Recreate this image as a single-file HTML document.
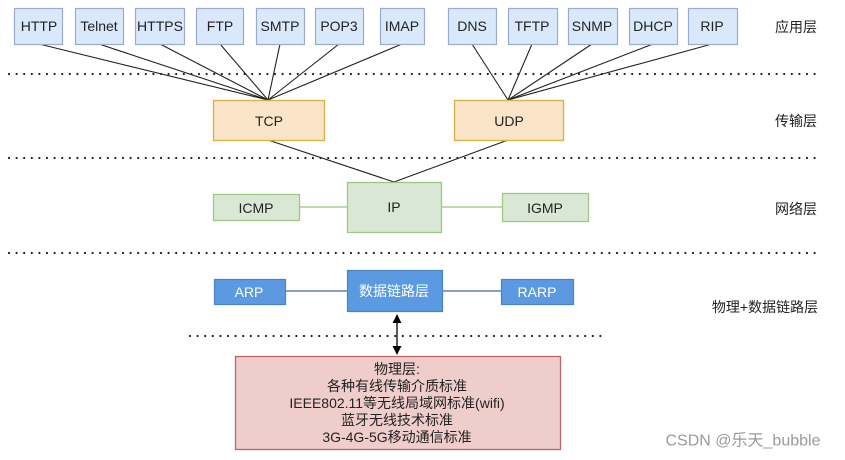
<!DOCTYPE html>
<html><head><meta charset="utf-8"><style>
html,body{margin:0;padding:0;background:#fff}
svg{display:block}
text{font-family:"Liberation Sans","Noto Sans CJK SC",sans-serif;font-size:14px;fill:#222;text-anchor:middle;dominant-baseline:central}
</style></head><body>
<svg width="845" height="460" viewBox="0 0 845 460" xmlns="http://www.w3.org/2000/svg">
<defs>
<marker id="ah" viewBox="0 0 10 10" refX="9" refY="5" markerWidth="7" markerHeight="7" orient="auto-start-reverse"><path d="M0,0 L10,5 L0,10 z" fill="#000"/></marker>
</defs>
<g stroke="#222" stroke-width="2.2" stroke-linecap="round" stroke-dasharray="0 7.6">
<line x1="9" y1="74" x2="820" y2="74"/>
<line x1="9" y1="158" x2="820" y2="158"/>
<line x1="9" y1="253" x2="820" y2="253"/>
<line x1="190" y1="336" x2="608" y2="336"/>
</g>
<g stroke="#222" stroke-width="1.1">
<line x1="39" y1="44" x2="268" y2="100"/>
<line x1="99" y1="44" x2="268" y2="100"/>
<line x1="160" y1="44" x2="268" y2="100"/>
<line x1="220" y1="44" x2="268" y2="100"/>
<line x1="280" y1="44" x2="268" y2="100"/>
<line x1="339" y1="44" x2="268" y2="100"/>
<line x1="402" y1="44" x2="268" y2="100"/>
<line x1="472" y1="44" x2="508" y2="100"/>
<line x1="532" y1="44" x2="508" y2="100"/>
<line x1="592" y1="44" x2="508" y2="100"/>
<line x1="653" y1="44" x2="508" y2="100"/>
<line x1="712" y1="44" x2="508" y2="100"/>
<line x1="268" y1="140" x2="394" y2="182"/>
<line x1="508" y1="140" x2="394" y2="182"/>
</g>
<g stroke="#97c47e" stroke-width="1.2">
<line x1="299" y1="207" x2="347" y2="207"/>
<line x1="441" y1="207" x2="502" y2="207"/>
</g>
<g stroke="#3f6aa8" stroke-width="1.2">
<line x1="285" y1="291" x2="347" y2="291"/>
<line x1="442" y1="291" x2="501" y2="291"/>
</g>
<line x1="397" y1="315" x2="397" y2="354" stroke="#000" stroke-width="1.3" marker-start="url(#ah)" marker-end="url(#ah)"/>
<g fill="#dae8fc" stroke="#9aabd0" stroke-width="1.2">
<rect x="14.5" y="8.5" width="48" height="36"/>
<rect x="75.5" y="8.5" width="48" height="36"/>
<rect x="135.5" y="8.5" width="49" height="36"/>
<rect x="196.5" y="8.5" width="47" height="36"/>
<rect x="256.5" y="8.5" width="48" height="36"/>
<rect x="315.5" y="8.5" width="48" height="36"/>
<rect x="380.5" y="8.5" width="44" height="36"/>
<rect x="448.5" y="8.5" width="48" height="36"/>
<rect x="508.5" y="8.5" width="49" height="36"/>
<rect x="568.5" y="8.5" width="49" height="36"/>
<rect x="629.5" y="8.5" width="48" height="36"/>
<rect x="688.5" y="8.5" width="49" height="36"/>
</g>
<g>
<text x="39" y="26">HTTP</text><text x="99" y="26">Telnet</text><text x="160" y="26">HTTPS</text>
<text x="220" y="26">FTP</text><text x="280" y="26">SMTP</text><text x="339" y="26">POP3</text>
<text x="402" y="26">IMAP</text><text x="472" y="26">DNS</text><text x="532" y="26">TFTP</text>
<text x="592" y="26">SNMP</text><text x="653" y="26">DHCP</text><text x="712" y="26">RIP</text>
</g>
<g fill="#fae5c8" stroke="#d7b44a" stroke-width="1.4">
<rect x="213.5" y="100.5" width="111" height="40"/>
<rect x="454.5" y="100.5" width="109" height="40"/>
</g>
<text x="269" y="121">TCP</text><text x="509" y="121">UDP</text>
<g fill="#d9e8d4" stroke="#9cc882" stroke-width="1.3">
<rect x="213.5" y="194.5" width="86" height="26"/>
<rect x="347.5" y="182.5" width="94" height="50"/>
<rect x="502.5" y="193.5" width="86" height="28"/>
</g>
<text x="256" y="208">ICMP</text><text x="394" y="207">IP</text><text x="545" y="208">IGMP</text>
<g fill="#5b9ae0" stroke="#4a82c8" stroke-width="1.2">
<rect x="214.5" y="279.5" width="71" height="25"/>
<rect x="347.5" y="270.5" width="95" height="41"/>
<rect x="501.5" y="279.5" width="72" height="25"/>
</g>
<text x="249" y="292" style="fill:#fff">ARP</text>
<text x="394" y="291" style="fill:#fff">数据链路层</text>
<text x="537" y="292" style="fill:#fff">RARP</text>
<rect x="235.5" y="356.5" width="325" height="93" fill="#efcdcb" stroke="#b96664" stroke-width="1.3"/>
<g style="font-size:14.5px">
<text x="397" y="369">物理层:</text>
<text x="397" y="386">各种有线传输介质标准</text>
<text x="397" y="403">IEEE802.11等无线局域网标准(wifi)</text>
<text x="397" y="420">蓝牙无线技术标准</text>
<text x="397" y="437">3G-4G-5G移动通信标准</text>
</g>
<g style="font-size:14.5px">
<text x="796" y="27">应用层</text>
<text x="796" y="121">传输层</text>
<text x="796" y="209">网络层</text>
<text x="765" y="307">物理+数据链路层</text>
</g>
<text x="743" y="441" style="fill:#9a9a9a;font-size:16px">CSDN @乐天_bubble</text>
</svg>
</body></html>
